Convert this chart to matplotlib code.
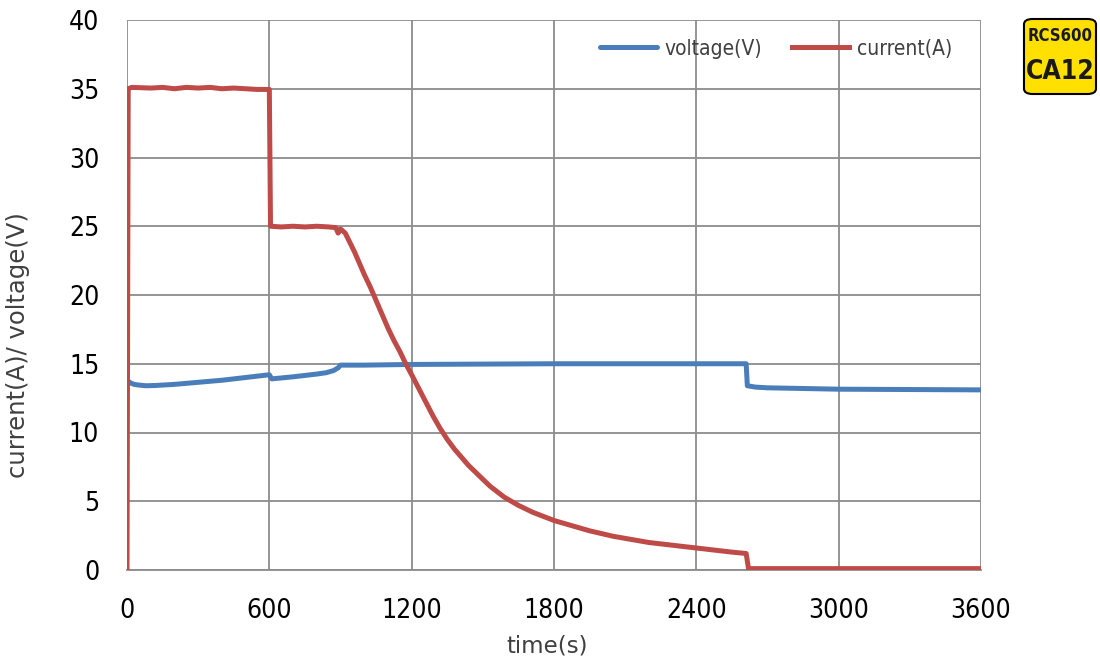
import matplotlib
matplotlib.use("Agg")
import matplotlib.pyplot as plt
from matplotlib.patches import FancyBboxPatch

# ---- data ----
cur_t = [0, 5, 20, 100, 150, 200, 250, 300, 350, 400, 450, 500, 550, 600,
         605, 650, 700, 750, 800, 850, 880, 890, 900, 920, 940, 960, 980, 1000, 1025, 1050,
         1075, 1100, 1125, 1150, 1175, 1200, 1230, 1260, 1290, 1320, 1350, 1380, 1410,
         1440, 1470, 1500, 1530, 1560, 1590, 1620, 1650, 1680,
         1710, 1740, 1770, 1800, 1850, 1900, 1950, 2000, 2050, 2100, 2150, 2200, 2250,
         2300, 2350, 2400, 2450, 2500, 2550, 2610, 2620, 3600]
cur_v = [0, 35.0, 35.1, 35.05, 35.1, 35.0, 35.1, 35.05, 35.1, 35.0, 35.05, 35.0, 34.95, 34.95,
         25.0, 24.95, 25.0, 24.95, 25.0, 24.95, 24.9, 24.5, 24.8, 24.5, 23.8, 23.1, 22.3, 21.5, 20.6, 19.6,
         18.6, 17.6, 16.7, 15.9, 15.0, 14.2, 13.2, 12.2, 11.2, 10.3, 9.5, 8.8, 8.2,
         7.6, 7.1, 6.6, 6.1, 5.7, 5.3, 5.0, 4.7, 4.45,
         4.2, 4.0, 3.8, 3.6, 3.35, 3.1, 2.85, 2.65, 2.45, 2.3, 2.15, 2.0, 1.9,
         1.8, 1.7, 1.6, 1.5, 1.4, 1.3, 1.2, 0.1, 0.1]

volt_t = [0, 15, 30, 50, 80, 120, 200, 300, 400, 500, 600, 610, 700, 800, 840, 870, 890, 900, 1000,
          1200, 1800, 2400, 2610, 2615, 2650, 2700, 2850, 3000, 3600]
volt_v = [13.8, 13.6, 13.5, 13.45, 13.4, 13.42, 13.5, 13.65, 13.8, 14.0, 14.2, 13.9, 14.05, 14.25, 14.35, 14.5, 14.7, 14.9, 14.9,
          14.95, 15.0, 15.0, 15.0, 13.4, 13.3, 13.25, 13.2, 13.15, 13.1]

x_ticks = [0, 600, 1200, 1800, 2400, 3000, 3600]
y_ticks = [0, 5, 10, 15, 20, 25, 30, 35, 40]

blue = "#4a7ebb"
red = "#be4b48"
grid_c = "#8c8c8c"
font = ["DejaVu Sans", "Noto Sans"]
plt.rcParams['font.family'] = font
plt.rcParams['font.stretch'] = 'condensed'

fig = plt.figure(figsize=(11, 6.61), dpi=100)
ax = fig.add_axes([127/1100, 1-570/661, (981-127)/1100, (570-20)/661])

ax.plot(volt_t, volt_v, color=blue, lw=3.6, label="voltage(V)", solid_capstyle="round", zorder=3)
ax.plot(cur_t, cur_v, color=red, lw=3.6, label="current(A)", zorder=3)

ax.set_xlim(0, 3600)
ax.set_ylim(0, 40)
ax.set_xticks(x_ticks)
ax.set_yticks(y_ticks)
ax.grid(True, color=grid_c, lw=1.3, zorder=0)
for s in ["top", "right", "left"]:
    ax.spines[s].set_visible(False)
ax.spines["bottom"].set_color(grid_c)
ax.spines["bottom"].set_linewidth(1.3)
ax.tick_params(axis="both", length=0, labelsize=19, colors="black")
ax.tick_params(axis="x", pad=20)
ax.tick_params(axis="y", pad=20)
ax.set_xlabel("time(s)", fontsize=16.5, color="#404040", fontstretch="normal")
ax.set_ylabel("current(A)/ voltage(V)", fontsize=17.5, color="#404040", fontstretch="normal")
ax.xaxis.set_label_coords(0.492, -0.118)
ax.yaxis.set_label_coords(-0.113, 0.409)

leg = ax.legend(loc="upper right", ncol=2, frameon=False, fontsize=15,
                handlelength=2.75, handletextpad=0.35, columnspacing=1.45,
                bbox_to_anchor=(0.988, 1.0))
for t in leg.get_texts():
    t.set_color("#404040")

# logo
logo = FancyBboxPatch((1024/1100, 1-94/661), 72/1100, 75/661,
                      boxstyle="round,pad=0,rounding_size=0.008",
                      transform=fig.transFigure, facecolor="#ffe000",
                      edgecolor="black", lw=1.5)
fig.patches.append(logo)
fig.text(1060/1100, 1-36/661, "RCS600", ha="center", va="center",
         fontsize=12, fontweight="bold", color="#1a1a1a")
fig.text(1060/1100, 1-72/661, "CA12", ha="center", va="center",
         fontsize=19, fontweight="bold", color="#1a1a1a")

fig.savefig("out.png", dpi=100)
